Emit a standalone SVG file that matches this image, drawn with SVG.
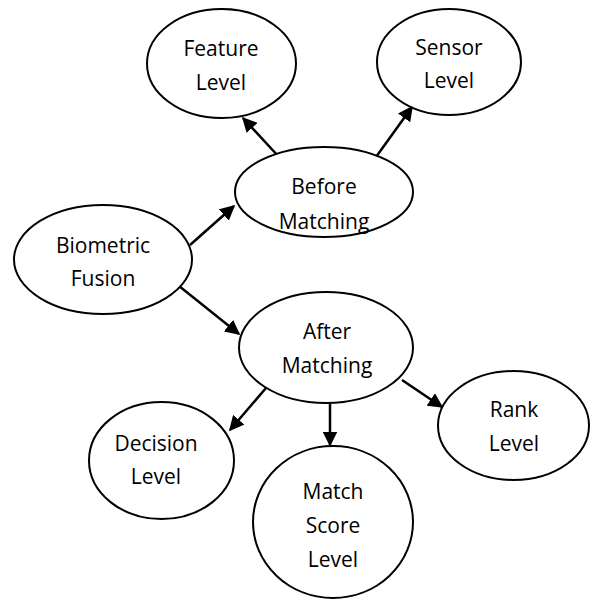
<svg xmlns="http://www.w3.org/2000/svg" width="590" height="599" viewBox="0 0 590 599">
<defs>
<style>
ellipse{fill:#fff;stroke:#000;stroke-width:2}
text{font-family:"Open Sans","Liberation Sans",sans-serif;font-size:21px;fill:#000;text-anchor:middle}
.c line{stroke:#000;stroke-width:2.5;marker-end:url(#ah)}
</style>
<marker id="ah" viewBox="0 0 10 10" refX="9" refY="5" markerWidth="6" markerHeight="6" orient="auto" markerUnits="strokeWidth">
<path d="M0,0 L10,5 L0,10 z" fill="#000"/>
</marker>
</defs>
<rect width="590" height="599" fill="#fff"/>
<g class="c" id="connectors">
<line x1="279" y1="157" x2="243" y2="118"/>
<line x1="376" y1="157" x2="412" y2="107"/>
<line x1="190" y1="245" x2="234" y2="206"/>
<line x1="179" y1="286" x2="239" y2="334"/>
<line x1="266" y1="388" x2="230" y2="430"/>
<line x1="330" y1="403" x2="330" y2="445"/>
<line x1="402" y1="380" x2="442" y2="407"/>
</g>
<g id="feature"><ellipse cx="221.5" cy="63.5" rx="74.5" ry="54.5"/><text x="221" y="56">Feature</text><text x="221" y="90">Level</text></g>
<g id="sensor"><ellipse cx="449" cy="62" rx="72" ry="53"/><text x="449" y="55">Sensor</text><text x="449" y="88">Level</text></g>
<g id="before"><ellipse cx="324" cy="192" rx="89" ry="45"/><text x="324" y="194">Before</text><text x="324" y="229">Matching</text></g>
<g id="fusion"><ellipse cx="103" cy="259.5" rx="89" ry="54.5"/><text x="103" y="253">Biometric</text><text x="103" y="286">Fusion</text></g>
<g id="after"><ellipse cx="326" cy="347.5" rx="87" ry="55.5"/><text x="327" y="339">After</text><text x="327" y="373">Matching</text></g>
<g id="decision"><ellipse cx="161.5" cy="460.5" rx="72.5" ry="58.5"/><text x="156" y="451">Decision</text><text x="156" y="484">Level</text></g>
<g id="match"><ellipse cx="333" cy="522" rx="80" ry="76"/><text x="333" y="499">Match</text><text x="333" y="533">Score</text><text x="333" y="567">Level</text></g>
<g id="rank"><ellipse cx="513.5" cy="425.5" rx="75.5" ry="54.5"/><text x="514" y="417">Rank</text><text x="514" y="451">Level</text></g>
</svg>
